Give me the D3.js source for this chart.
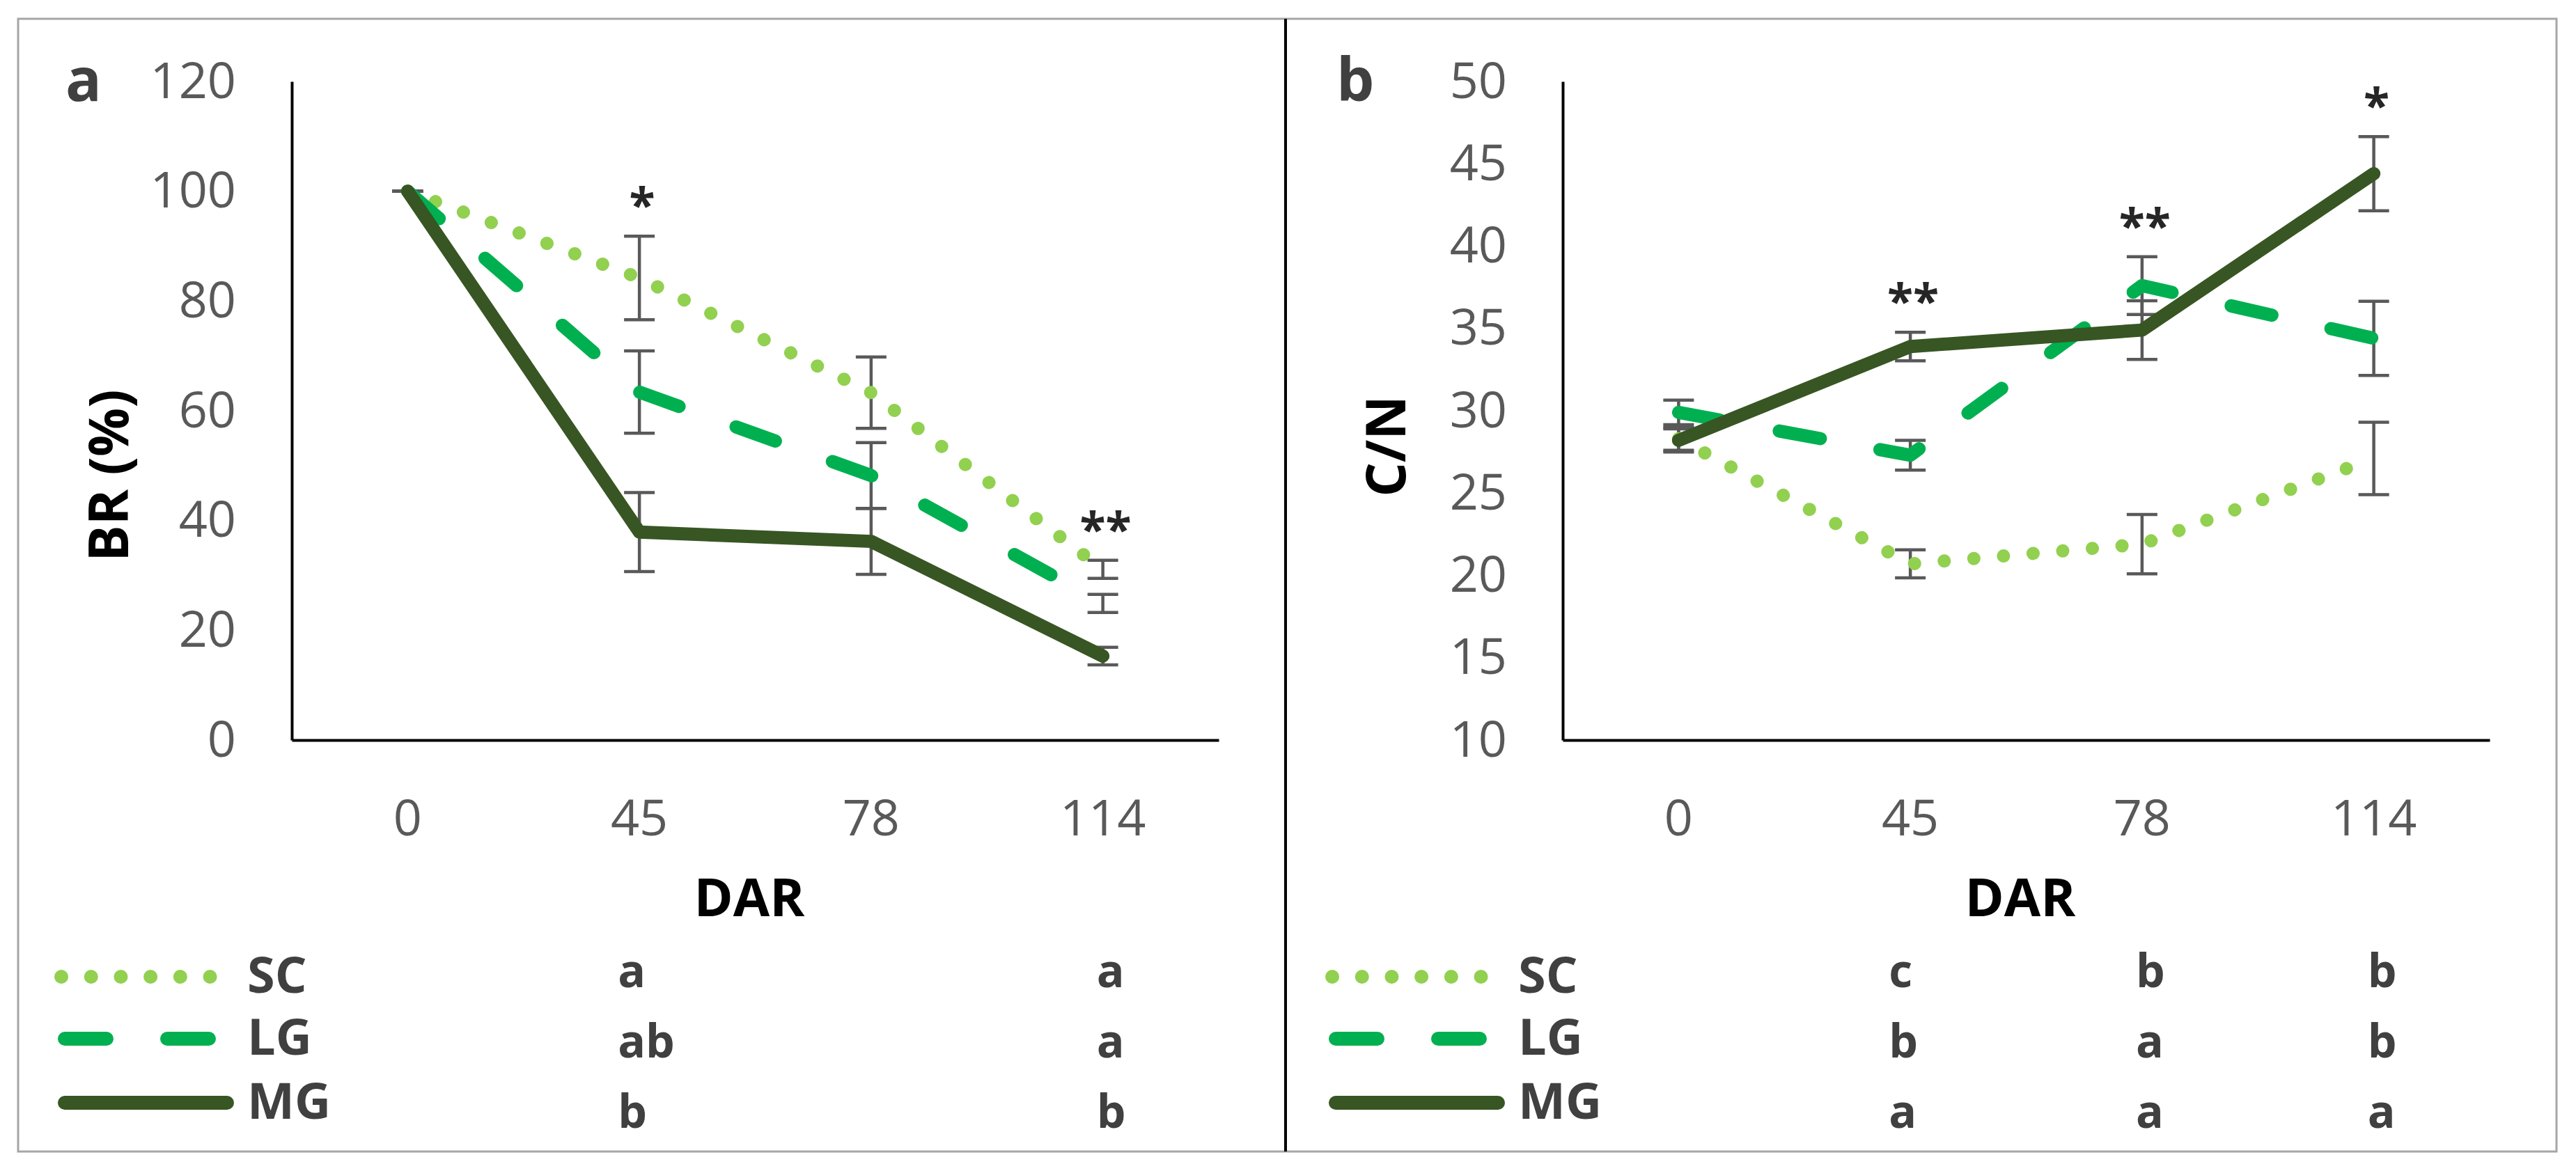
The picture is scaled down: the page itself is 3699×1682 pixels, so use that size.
<!DOCTYPE html>
<html>
<head>
<meta charset="utf-8">
<script src="https://cdn.jsdelivr.net/npm/d3@7"></script>
<style>
  body { margin: 0; background: #fff; }
</style>
</head>
<body>
<div id="chart"></div>
<script>
//data
var days = ["0", "45", "78", "114"];
var seriesNames = ["SC", "LG", "MG"];

var brSC = [100, 84.2, 63.3, 31.1];
var brLG = [100, 63.4, 48.2, 24.9];
var brMG = [100, 37.9, 36.2, 15.3];
var brErrSC = [0, 7.6, 6.5, 1.65];
var brErrLG = [0, 7.5, 6.0, 1.65];
var brErrMG = [0, 7.2, 6.0, 1.6];
var brStars = ["", "*", "", "**"];
var brTicks = [0, 20, 40, 60, 80, 100, 120];
var brLetterDays = ["45", "114"];
var brLetters45 = ["a", "ab", "b"];
var brLetters114 = ["a", "a", "b"];

var cnSC = [28.3, 20.7, 21.9, 27.1];
var cnLG = [29.9, 27.3, 37.6, 34.4];
var cnMG = [28.2, 33.9, 34.9, 44.4];
var cnErrSC = [0.7, 0.85, 1.8, 2.2];
var cnErrLG = [0.75, 0.9, 1.75, 2.25];
var cnErrMG = [0.7, 0.87, 1.78, 2.25];
var cnStars = ["", "**", "**", "*"];
var cnTicks = [10, 15, 20, 25, 30, 35, 40, 45, 50];
var cnLetterDays = ["45", "78", "114"];
var cnLetters45 = ["c", "b", "a"];
var cnLetters78 = ["b", "a", "a"];
var cnLetters114 = ["b", "b", "a"];

//globals
var width = 3699;
var height = 1682;
var font = "'Open Sans', 'Noto Sans', sans-serif";
var colors = { SC: "#92D050", LG: "#00B050", MG: "#375623" };
var dashes = { SC: "0.1,42.6", LG: "60,87", MG: null };
var lineW = 19;

var svg = d3.select("#chart")
    .append("svg")
    .attr("width", width)
    .attr("height", height);

svg.append("rect")
    .attr("width", width)
    .attr("height", height)
    .attr("fill", "#fff");

// outer frame and divider
svg.append("rect")
    .attr("x", 26).attr("y", 27)
    .attr("width", 3645).attr("height", 1627)
    .attr("fill", "none")
    .attr("stroke", "#a6a6a6")
    .attr("stroke-width", 3);

svg.append("line")
    .attr("x1", 1846).attr("x2", 1846)
    .attr("y1", 27).attr("y2", 1654)
    .attr("stroke", "#000")
    .attr("stroke-width", 4);

function make_panel(cfg) {

    var g = svg.append("g")
        .attr("transform", "translate(" + cfg.ox + ",0)");

    var x = d3.scaleBand()
        .domain(days)
        .range([419, 1750])
        .padding(0);

    var y = d3.scaleLinear()
        .domain(cfg.domain)
        .range([1063, 117]);

    var cx = function(i) { return x(days[i]) + x.bandwidth() / 2; };

    // axes
    var yAxis = g.append("g")
        .attr("transform", "translate(419,0)")
        .call(d3.axisLeft(y).tickValues(cfg.ticks).tickSize(0).tickSizeOuter(0).tickPadding(80));

    var xAxis = g.append("g")
        .attr("transform", "translate(0,1063)")
        .call(d3.axisBottom(x).tickSize(0).tickSizeOuter(0).tickPadding(86));

    [yAxis, xAxis].forEach(function(a) {
        a.select(".domain").attr("stroke", "#000").attr("stroke-width", 4);
        a.selectAll("text")
            .attr("font-family", font)
            .style("font-size", "72px")
            .attr("fill", "#595959");
    });

    // axis titles
    g.append("text")
        .attr("x", 1076)
        .attr("y", 1316)
        .attr("text-anchor", "middle")
        .attr("font-family", font)
        .attr("font-weight", "bold")
        .style("font-size", "76px")
        .attr("fill", "#000")
        .text("DAR");

    g.append("text")
        .attr("transform", "translate(" + cfg.titleX + "," + cfg.titleY + ") rotate(-90)")
        .attr("text-anchor", "middle")
        .attr("font-family", font)
        .attr("font-weight", "bold")
        .style("font-size", "78px")
        .attr("fill", "#000")
        .text(cfg.title);

    // panel letter
    g.append("text")
        .attr("x", 94)
        .attr("y", 145)
        .attr("font-family", font)
        .attr("font-weight", "bold")
        .style("font-size", "86px")
        .attr("fill", "#404040")
        .text(cfg.label);

    // error bars first, lines go over them
    seriesNames.forEach(function(s) {
        var vals = cfg.values[s], errs = cfg.errors[s];
        var eb = g.append("g")
            .attr("stroke", "#595959")
            .attr("stroke-width", 4.5);
        vals.forEach(function(v, i) {
            var top = y(v + errs[i]), bot = y(v - errs[i]);
            eb.append("line").attr("x1", cx(i)).attr("x2", cx(i)).attr("y1", top).attr("y2", bot);
            eb.append("line").attr("x1", cx(i) - 22).attr("x2", cx(i) + 22).attr("y1", top).attr("y2", top);
            eb.append("line").attr("x1", cx(i) - 22).attr("x2", cx(i) + 22).attr("y1", bot).attr("y2", bot);
        });
    });

    var line = d3.line()
        .x(function(d, i) { return cx(i); })
        .y(function(d) { return y(d); });

    seriesNames.forEach(function(s) {
        g.append("path")
            .attr("d", line(cfg.values[s]))
            .attr("fill", "none")
            .attr("stroke", colors[s])
            .attr("stroke-width", lineW)
            .attr("stroke-linecap", "round")
            .attr("stroke-linejoin", "round")
            .attr("stroke-dasharray", dashes[s]);
    });

    // significance stars above the highest error bar
    cfg.stars.forEach(function(st, i) {
        if (!st) return;
        var hi = d3.max(seriesNames, function(s) { return cfg.values[s][i] + cfg.errors[s][i]; });
        g.append("text")
            .attr("x", cx(i) + 4)
            .attr("y", y(hi) - 20)
            .attr("text-anchor", "middle")
            .attr("font-family", font)
            .attr("font-weight", "bold")
            .style("font-size", "68px")
            .attr("fill", "#262626")
            .text(st);
    });

    // legend
    var lx0 = 88, rows = [1403, 1492, 1584];
    seriesNames.forEach(function(s, k) {
        var x1 = s === "SC" ? lx0 : lx0 + 5;
        var x2 = s === "SC" ? lx0 + 216 : (s === "LG" ? lx0 + 212 : lx0 + 238);
        g.append("path")
            .attr("d", "M" + x1 + "," + rows[k] + "H" + x2)
            .attr("stroke", colors[s])
            .attr("stroke-width", lineW + 1)
            .attr("stroke-linecap", "round")
            .attr("stroke-dasharray", dashes[s]);
        g.append("text")
            .attr("x", 355)
            .attr("y", rows[k] + 23)
            .attr("font-family", font)
            .attr("font-weight", "bold")
            .style("font-size", "72px")
            .attr("fill", "#404040")
            .text(s);
    });

    // letters of the mean comparison
    cfg.letterDays.forEach(function(day, c) {
        var col = cfg.letters[c];
        var lx = x(day) + x.bandwidth() / 2 + (day === "45" ? -31 : -9);
        col.forEach(function(t, r) {
            g.append("text")
                .attr("x", lx)
                .attr("y", 1418 + r * 101)
                .attr("font-family", font)
                .attr("font-weight", "bold")
                .style("font-size", "66px")
                .attr("fill", "#404040")
                .text(t);
        });
    });
}

make_panel({
    ox: 0,
    label: "a",
    title: "BR (%)",
    titleX: 184,
    titleY: 683,
    domain: [0, 120],
    ticks: brTicks,
    values: { SC: brSC, LG: brLG, MG: brMG },
    errors: { SC: brErrSC, LG: brErrLG, MG: brErrMG },
    stars: brStars,
    letterDays: brLetterDays,
    letters: [brLetters45, brLetters114]
});

make_panel({
    ox: 1825,
    label: "b",
    title: "C/N",
    titleX: 193,
    titleY: 641,
    domain: [10, 50],
    ticks: cnTicks,
    values: { SC: cnSC, LG: cnLG, MG: cnMG },
    errors: { SC: cnErrSC, LG: cnErrLG, MG: cnErrMG },
    stars: cnStars,
    letterDays: cnLetterDays,
    letters: [cnLetters45, cnLetters78, cnLetters114]
});
</script>
</body>
</html>
